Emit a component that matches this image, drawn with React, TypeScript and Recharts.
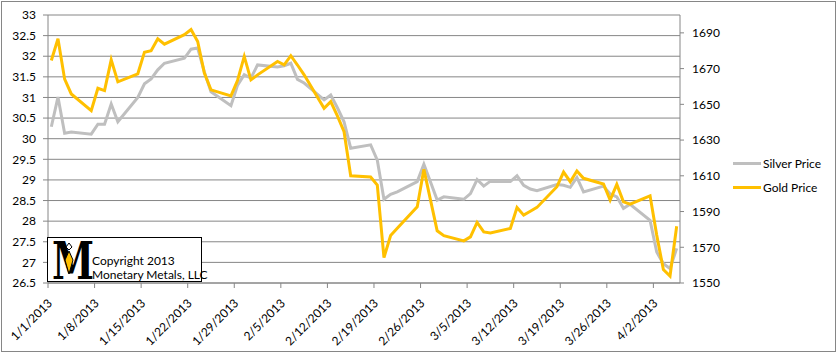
import { LineChart, Line, XAxis, YAxis, CartesianGrid } from "recharts";

// trading days shown on the chart
const dates = [
  "1/1/2013", "1/2/2013", "1/3/2013", "1/4/2013", "1/7/2013", "1/8/2013", "1/9/2013", "1/10/2013", "1/11/2013",
  "1/14/2013", "1/15/2013", "1/16/2013", "1/17/2013", "1/18/2013", "1/21/2013", "1/22/2013", "1/23/2013", "1/24/2013",
  "1/25/2013", "1/28/2013", "1/29/2013", "1/30/2013", "1/31/2013", "2/1/2013", "2/4/2013", "2/5/2013", "2/6/2013",
  "2/7/2013", "2/8/2013", "2/11/2013", "2/12/2013", "2/13/2013", "2/14/2013", "2/15/2013", "2/18/2013", "2/19/2013",
  "2/20/2013", "2/21/2013", "2/22/2013", "2/25/2013", "2/26/2013", "2/27/2013", "2/28/2013", "3/1/2013", "3/4/2013",
  "3/5/2013", "3/6/2013", "3/7/2013", "3/8/2013", "3/11/2013", "3/12/2013", "3/13/2013", "3/14/2013", "3/15/2013",
  "3/18/2013", "3/19/2013", "3/20/2013", "3/21/2013", "3/22/2013", "3/25/2013", "3/26/2013", "3/27/2013", "3/28/2013",
  "3/29/2013", "4/1/2013", "4/2/2013", "4/3/2013", "4/4/2013", "4/5/2013",
];

const silverPrice = [
  30.29, 31.01, 30.13, 30.16, 30.11, 30.35, 30.35, 30.84, 30.41,
  31.0, 31.33, 31.45, 31.67, 31.83, 31.95, 32.17, 32.2, 31.62,
  31.14, 30.8, 31.3, 31.55, 31.47, 31.79, 31.74, 31.77, 31.83,
  31.44, 31.35, 30.94, 31.06, 30.75, 30.41, 29.77, 29.85, 29.48,
  28.53, 28.65, 28.71, 28.96, 29.38, 28.95, 28.51, 28.59, 28.53,
  28.67, 29.01, 28.85, 28.97, 28.96, 29.1, 28.87, 28.78, 28.74,
  28.89, 28.87, 28.82, 29.06, 28.71, 28.85, 28.66, 28.59, 28.31,
  28.41, 28.02, 27.25, 26.97, 26.85, 27.34,
];

const goldPrice = [
  1674.5, 1686.7, 1664.1, 1655.8, 1646.5, 1659.0, 1657.7, 1674.9, 1662.6,
  1667.1, 1679.2, 1680.0, 1686.7, 1683.7, 1689.0, 1691.9, 1685.2, 1667.5,
  1658.1, 1654.7, 1663.5, 1676.8, 1663.7, 1666.5, 1674.0, 1672.1, 1677.2,
  1672.0, 1666.5, 1647.8, 1651.5, 1643.5, 1634.7, 1610.0, 1609.3, 1604.8,
  1564.2, 1576.6, 1580.6, 1592.6, 1613.6, 1596.4, 1579.2, 1576.5, 1573.6,
  1575.8, 1583.9, 1578.6, 1578.0, 1580.5, 1592.3, 1588.0, 1590.2, 1592.3,
  1603.9, 1612.1, 1606.7, 1612.7, 1608.6, 1605.4, 1596.4, 1605.2, 1595.4,
  1594.1, 1598.8, 1576.8, 1557.5, 1553.9, 1581.8,
];

const xTickLabels = [
  "1/1/2013", "1/8/2013", "1/15/2013", "1/22/2013", "1/29/2013", "2/5/2013", "2/12/2013",
  "2/19/2013", "2/26/2013", "3/5/2013", "3/12/2013", "3/19/2013", "3/26/2013", "4/2/2013",
];
const silverTicks = [26.5, 27, 27.5, 28, 28.5, 29, 29.5, 30, 30.5, 31, 31.5, 32, 32.5, 33];
const goldTicks = [1550, 1570, 1590, 1610, 1630, 1650, 1670, 1690];

const FONT = "Lato, 'Liberation Sans', sans-serif";
const GRID = "#868686";
const SILVER = "#BFBFBF";
const GOLD = "#FFC000";

// days since 1/1/2013 (date axis like Excel)
function dayOf(s: string) {
  const [m, d, y] = s.split("/").map(Number);
  return Math.round((Date.UTC(y, m - 1, d) - Date.UTC(2013, 0, 1)) / 86400000);
}

const data = dates.map((d, i) => ({
  x: dayOf(d) + 0.5,
  silver: silverPrice[i],
  gold: goldPrice[i],
}));

const tickPos = xTickLabels.map(dayOf);
const labelFor: Record<number, string> = {};
xTickLabels.forEach((l) => (labelFor[dayOf(l)] = l));

function DateTick(props: any) {
  const { x, y, payload } = props;
  const px = x + 5;
  const py = y + 14;
  return (
    <text
      x={px}
      y={py}
      transform={`rotate(-45, ${px}, ${py})`}
      textAnchor="end"
      fontSize={12}
      fontFamily={FONT}
      fill="#000"
    >
      {labelFor[payload.value]}
    </text>
  );
}

function Logo() {
  const textStyle = {
    position: "absolute" as const,
    left: 44,
    fontFamily: FONT,
    fontSize: 12,
    lineHeight: "13px",
    color: "#000",
    whiteSpace: "nowrap" as const,
  };
  return (
    <div
      style={{
        position: "absolute",
        left: 47,
        top: 237,
        width: 155,
        height: 45,
        border: "1px solid #000",
        background: "#fff",
        boxSizing: "border-box",
      }}
    >
      <svg
        width={44}
        height={56}
        style={{ position: "absolute", left: 1, top: -12, overflow: "visible" }}
      >
        {/* logo: serif M with a gold pendant */}
        <g transform="translate(3,53) scale(0.95,1.3)">
          <text x={0} y={0} fontSize={40} fontFamily="'DejaVu Serif', serif" fontWeight="bold" fill="#000">
            M
          </text>
        </g>
        <polygon points="20,17 23,21 20,24 17,21" fill="#fff" stroke="#000" strokeWidth={1} />
        <polygon points="20,25 24,34 20,48 16,34" fill={GOLD} stroke="#000" strokeWidth={1} />
      </svg>
      <div style={{ ...textStyle, top: 16 }}>Copyright 2013</div>
      <div style={{ ...textStyle, top: 30 }}>Monetary Metals, LLC</div>
    </div>
  );
}

function LegendBox() {
  const items = [
    { name: "Silver Price", color: SILVER, y: 157 },
    { name: "Gold Price", color: GOLD, y: 181 },
  ];
  return (
    <>
      {items.map((it) => (
        <div key={it.name} style={{ position: "absolute", left: 733, top: it.y, height: 14 }}>
          <div
            style={{
              position: "absolute",
              left: 0,
              top: 5,
              width: 28,
              height: 3,
              background: it.color,
            }}
          />
          <div
            style={{
              position: "absolute",
              left: 30,
              top: 0,
              fontFamily: FONT,
              fontSize: 12,
              lineHeight: "14px",
              color: "#000",
              whiteSpace: "nowrap",
            }}
          >
            {it.name}
          </div>
        </div>
      ))}
    </>
  );
}

export default function App() {
  return (
    <div
      style={{
        position: "absolute",
        left: 0,
        top: 0,
        width: 838,
        height: 354,
        background: "#fff",
      }}
    >
      <div
        style={{
          position: "absolute",
          left: 1,
          top: 1,
          width: 835,
          height: 351,
          border: "1px solid #868686",
          boxSizing: "border-box",
        }}
      />
      <LineChart
        width={838}
        height={354}
        data={data}
        margin={{ top: 15, right: 98, bottom: 0, left: 0 }}
      >
        <CartesianGrid yAxisId="left" horizontal vertical={false} stroke={GRID} strokeWidth={1} />
        <XAxis
          dataKey="x"
          type="number"
          domain={[0, 95]}
          ticks={tickPos}
          interval={0}
          height={71}
          tick={<DateTick />}
          tickSize={5}
          axisLine={{ stroke: GRID }}
          tickLine={{ stroke: GRID }}
          allowDataOverflow
        />
        <YAxis
          yAxisId="left"
          domain={[26.5, 33]}
          ticks={silverTicks}
          interval={0}
          width={48}
          tickSize={5}
          tickMargin={7}
          axisLine={{ stroke: GRID }}
          tickLine={{ stroke: GRID }}
          tick={{ fontSize: 12, fontFamily: FONT, fill: "#000" }}
          allowDataOverflow
        />
        <YAxis
          yAxisId="right"
          orientation="right"
          domain={[1550, 1700]}
          ticks={goldTicks}
          interval={0}
          width={60}
          tickSize={4}
          tickMargin={8}
          axisLine={{ stroke: GRID }}
          tickLine={{ stroke: GRID }}
          tick={{ fontSize: 12, fontFamily: FONT, fill: "#000" }}
          allowDataOverflow
        />
        <Line
          yAxisId="left"
          type="linear"
          dataKey="silver"
          name="Silver Price"
          stroke={SILVER}
          strokeWidth={3}
          dot={false}
          isAnimationActive={false}
        />
        <Line
          yAxisId="right"
          type="linear"
          dataKey="gold"
          name="Gold Price"
          stroke={GOLD}
          strokeWidth={3}
          dot={false}
          isAnimationActive={false}
        />
      </LineChart>
      <Logo />
      <LegendBox />
    </div>
  );
}
